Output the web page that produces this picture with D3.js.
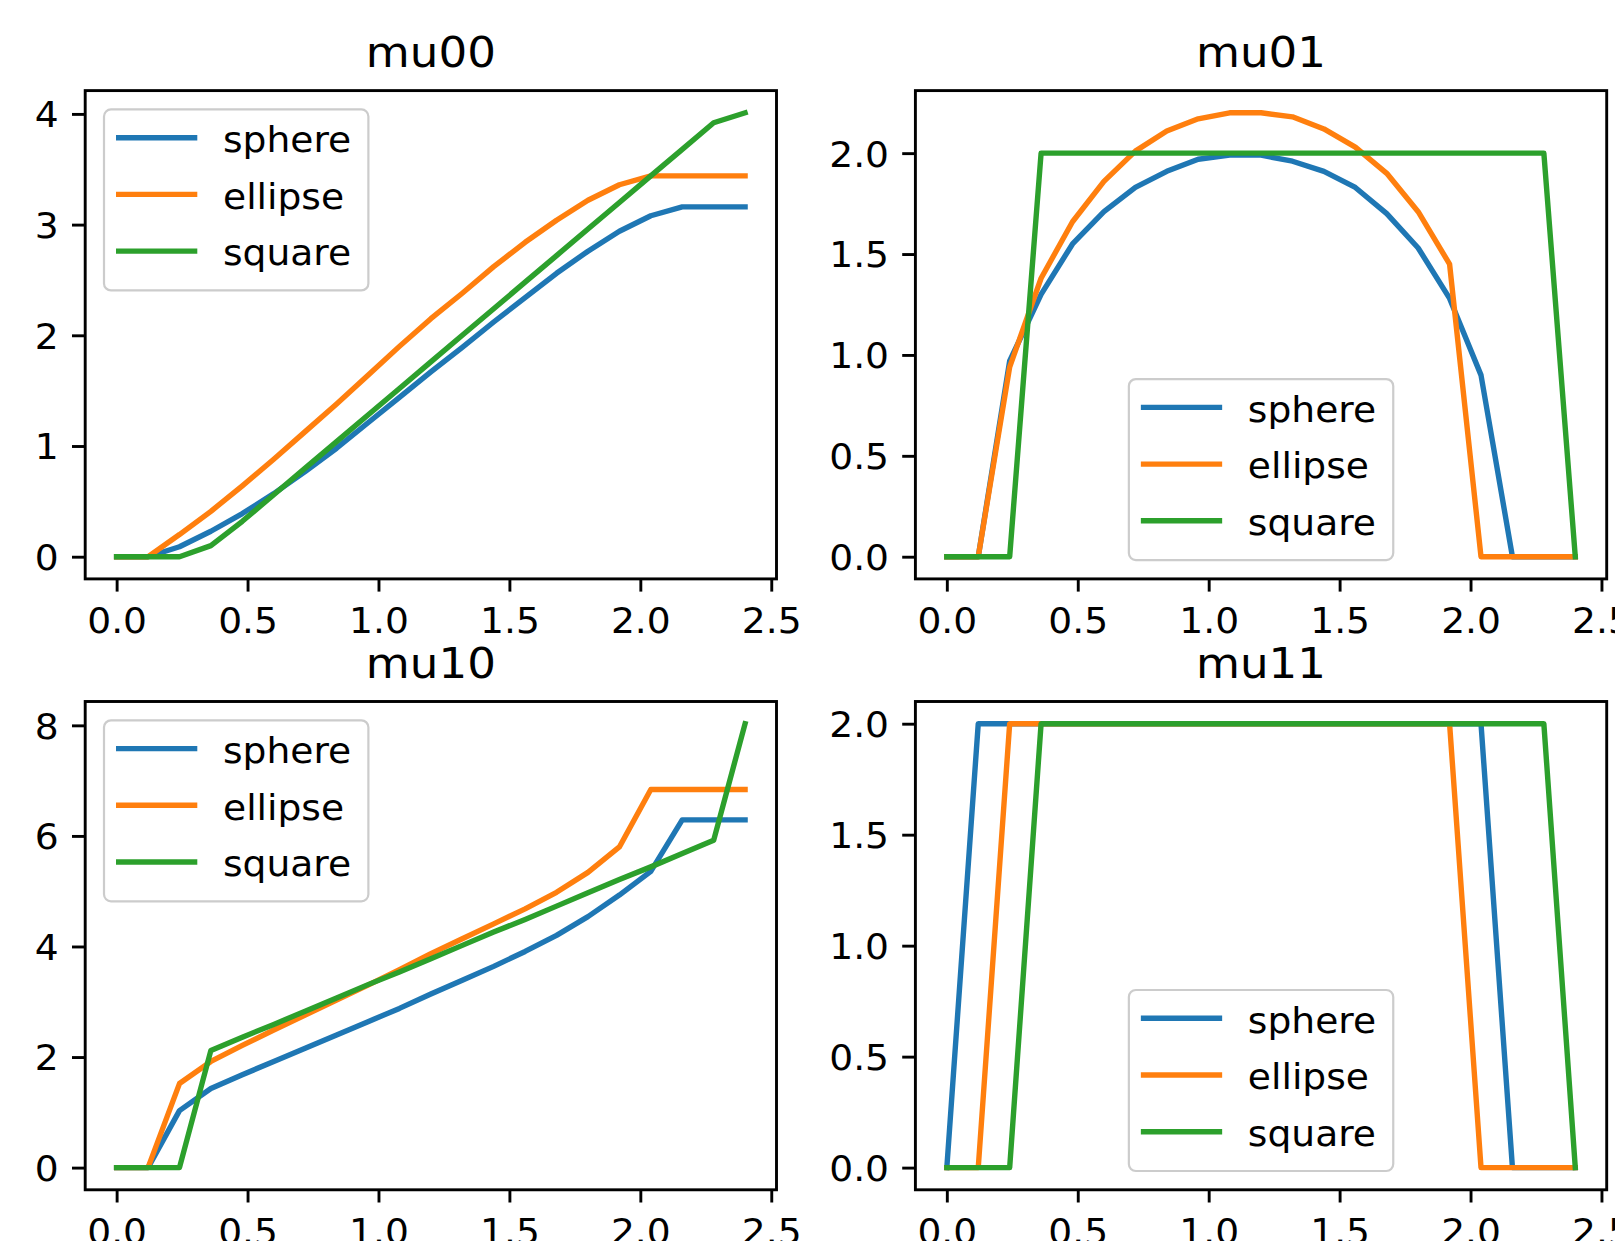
<!DOCTYPE html>
<html>
<head>
<meta charset="utf-8">
<script src="https://cdn.jsdelivr.net/npm/d3@7"></script>
<style>
  html, body { margin: 0; padding: 0; background: #ffffff; }
  svg { display: block; }
</style>
</head>
<body>
<svg id="chart" width="1615" height="1241"></svg>
<script>
// ---------------- data ----------------
const xValues = [0, 0.12, 0.24, 0.36, 0.48, 0.6, 0.72, 0.84, 0.96, 1.08, 1.2,
                 1.32, 1.44, 1.56, 1.68, 1.8, 1.92, 2.04, 2.16, 2.28, 2.4];
const seriesNames = ["sphere", "ellipse", "square"];
const seriesColors = ["#1f77b4", "#ff7f0e", "#2ca02c"];
const panelTitles = ["mu00", "mu01", "mu10", "mu11"];

const mu00Sphere  = [0, 0, 0.09, 0.23, 0.39, 0.57, 0.77, 0.98, 1.21, 1.44, 1.67, 1.89, 2.12, 2.34, 2.56, 2.76, 2.94, 3.08, 3.16, 3.16, 3.16];
const mu00Ellipse = [0, 0, 0.20, 0.41, 0.64, 0.88, 1.13, 1.38, 1.64, 1.90, 2.15, 2.38, 2.62, 2.84, 3.04, 3.22, 3.36, 3.44, 3.44, 3.44, 3.44];
const mu00Square  = [0, 0, 0, 0.10, 0.32, 0.56, 0.80, 1.04, 1.28, 1.52, 1.76, 2.00, 2.24, 2.48, 2.72, 2.96, 3.20, 3.44, 3.68, 3.92, 4.01];

const mu01Sphere  = [0, 0, 0.97, 1.30, 1.55, 1.71, 1.83, 1.91, 1.97, 1.99, 1.99, 1.96, 1.91, 1.83, 1.70, 1.53, 1.28, 0.90, 0, 0, 0];
const mu01Ellipse = [0, 0, 0.94, 1.38, 1.66, 1.86, 2.01, 2.11, 2.17, 2.20, 2.20, 2.18, 2.12, 2.03, 1.90, 1.71, 1.45, 0, 0, 0, 0];
const mu01Square  = [0, 0, 0, 2, 2, 2, 2, 2, 2, 2, 2, 2, 2, 2, 2, 2, 2, 2, 2, 2, 0];

const mu10Sphere  = [0, 0, 1.03, 1.43, 1.68, 1.92, 2.16, 2.40, 2.64, 2.88, 3.14, 3.39, 3.64, 3.91, 4.20, 4.54, 4.93, 5.36, 6.29, 6.29, 6.29];
const mu10Ellipse = [0, 0, 1.52, 1.92, 2.21, 2.49, 2.76, 3.03, 3.30, 3.58, 3.87, 4.14, 4.41, 4.68, 4.98, 5.34, 5.80, 6.84, 6.84, 6.84, 6.84];
const mu10Square  = [0, 0, 0, 2.12, 2.36, 2.59, 2.83, 3.07, 3.31, 3.54, 3.78, 4.02, 4.26, 4.49, 4.73, 4.97, 5.21, 5.44, 5.68, 5.92, 8.03];

const mu11Sphere  = [0, 2, 2, 2, 2, 2, 2, 2, 2, 2, 2, 2, 2, 2, 2, 2, 2, 2, 0, 0, 0];
const mu11Ellipse = [0, 0, 2, 2, 2, 2, 2, 2, 2, 2, 2, 2, 2, 2, 2, 2, 2, 0, 0, 0, 0];
const mu11Square  = [0, 0, 0, 2, 2, 2, 2, 2, 2, 2, 2, 2, 2, 2, 2, 2, 2, 2, 2, 2, 0];

const xTickValues   = [0, 0.5, 1.0, 1.5, 2.0, 2.5];
const yTicksMu00    = [0, 1, 2, 3, 4];
const yTicksMu01    = [0, 0.5, 1.0, 1.5, 2.0];
const yTicksMu10    = [0, 2, 4, 6, 8];
const yTicksMu11    = [0, 0.5, 1.0, 1.5, 2.0];

// ---------------- layout / style ----------------
const FONT = "DejaVu Sans, Liberation Sans, sans-serif";
const STRETCH = 1.048;           // horizontal stretch of the reference text
const TICK_FS = 35.9, TITLE_FS = 43.1, LEG_FS = 35.9;
const AX_W = 691.3, AX_H = 488.3;
const SPINE_W = 2.9, LINE_W = 5.4;

const panels = [
  { title: panelTitles[0], left: 85.2,  top: 90.6,  series: [mu00Sphere, mu00Ellipse, mu00Square], yTicks: yTicksMu00, fmt: d3.format("d"),   legend: "upper left" },
  { title: panelTitles[1], left: 915.4, top: 90.6,  series: [mu01Sphere, mu01Ellipse, mu01Square], yTicks: yTicksMu01, fmt: d3.format(".1f"), legend: "lower center" },
  { title: panelTitles[2], left: 85.2,  top: 701.5, series: [mu10Sphere, mu10Ellipse, mu10Square], yTicks: yTicksMu10, fmt: d3.format("d"),   legend: "upper left" },
  { title: panelTitles[3], left: 915.4, top: 701.5, series: [mu11Sphere, mu11Ellipse, mu11Square], yTicks: yTicksMu11, fmt: d3.format(".1f"), legend: "lower center" }
];

const svg = d3.select("#chart");

function stretchText(sel) {
  sel.each(function () {
    const L = this.getComputedTextLength();
    this.setAttribute("textLength", L * STRETCH);
    this.setAttribute("lengthAdjust", "spacingAndGlyphs");
  });
}

function withMargins(lo, hi) {
  const r = hi - lo;
  return [lo - 0.05 * r, hi + 0.05 * r];
}

panels.forEach(p => {
  const g = svg.append("g").attr("transform", `translate(${p.left},${p.top})`);

  const xExt = d3.extent(xValues);
  const x = d3.scaleLinear().domain(withMargins(xExt[0], xExt[1])).range([0, AX_W]);
  const allY = p.series.flat();
  const y = d3.scaleLinear().domain(withMargins(d3.min(allY), d3.max(allY))).range([AX_H, 0]);

  // lines
  const line = d3.line().x((d, i) => x(xValues[i])).y(d => y(d));
  p.series.forEach((s, k) => {
    g.append("path")
      .datum(s)
      .attr("d", line)
      .attr("fill", "none")
      .attr("stroke", seriesColors[k])
      .attr("stroke-width", LINE_W)
      .attr("stroke-linejoin", "round")
      .attr("stroke-linecap", "square");
  });

  // x axis
  const gx = g.append("g")
    .attr("transform", `translate(0,${AX_H})`)
    .call(d3.axisBottom(x).tickValues(xTickValues).tickSize(12.7).tickFormat(d3.format(".1f")));
  gx.select(".domain").remove();
  gx.attr("font-family", FONT).attr("font-size", TICK_FS);
  gx.selectAll(".tick line").attr("stroke", "#000").attr("stroke-width", SPINE_W);
  gx.selectAll(".tick text").attr("y", 54.5).attr("dy", null).attr("fill", "#000")
    .attr("text-anchor", "middle");
  stretchText(gx.selectAll(".tick text"));

  // y axis
  const gy = g.append("g")
    .call(d3.axisLeft(y).tickValues(p.yTicks).tickSize(13.2).tickFormat(p.fmt));
  gy.select(".domain").remove();
  gy.attr("font-family", FONT).attr("font-size", TICK_FS);
  gy.selectAll(".tick line").attr("stroke", "#000").attr("stroke-width", SPINE_W);
  gy.selectAll(".tick text").attr("x", -26.4).attr("dy", "0.36em").attr("fill", "#000")
    .attr("text-anchor", "end");
  stretchText(gy.selectAll(".tick text"));

  // spines
  g.append("rect")
    .attr("x", 0).attr("y", 0).attr("width", AX_W).attr("height", AX_H)
    .attr("fill", "none").attr("stroke", "#000").attr("stroke-width", SPINE_W);

  // title
  const t = g.append("text")
    .attr("x", AX_W / 2).attr("y", -24)
    .attr("text-anchor", "middle")
    .attr("font-family", FONT).attr("font-size", TITLE_FS)
    .attr("fill", "#000")
    .text(p.title);
  stretchText(t);

  // legend
  const lg = g.append("g");
  const frame = lg.append("rect");
  const items = lg.selectAll("g.item").data(seriesNames).enter().append("g").attr("class", "item");
  const texts = items.append("text")
    .attr("font-family", FONT).attr("font-size", LEG_FS).attr("fill", "#000")
    .text(d => d);
  stretchText(texts);
  let maxW = 0;
  texts.each(function () { maxW = Math.max(maxW, this.getComputedTextLength() * STRETCH); });
  const boxW = 119 + maxW + 11;
  const boxH = 181;
  let bx, by;
  if (p.legend === "upper left") { bx = 18.8; by = 18.8; }
  else { bx = AX_W / 2 - boxW / 2; by = AX_H - 18.8 - boxH; }
  frame.attr("x", bx).attr("y", by).attr("width", boxW).attr("height", boxH)
    .attr("rx", 7).attr("ry", 7)
    .attr("fill", "#ffffff").attr("fill-opacity", 0.8)
    .attr("stroke", "#cccccc").attr("stroke-width", 2.2);
  items.each(function (d, k) {
    const base = by + 42.5 + 56.7 * k;
    const it = d3.select(this);
    it.insert("line", "text")
      .attr("x1", bx + 14.7).attr("x2", bx + 90.6)
      .attr("y1", base - 14.2).attr("y2", base - 14.2)
      .attr("stroke", seriesColors[k]).attr("stroke-width", LINE_W)
      .attr("stroke-linecap", "square");
    it.select("text").attr("x", bx + 119).attr("y", base);
  });
});
</script>
</body>
</html>
